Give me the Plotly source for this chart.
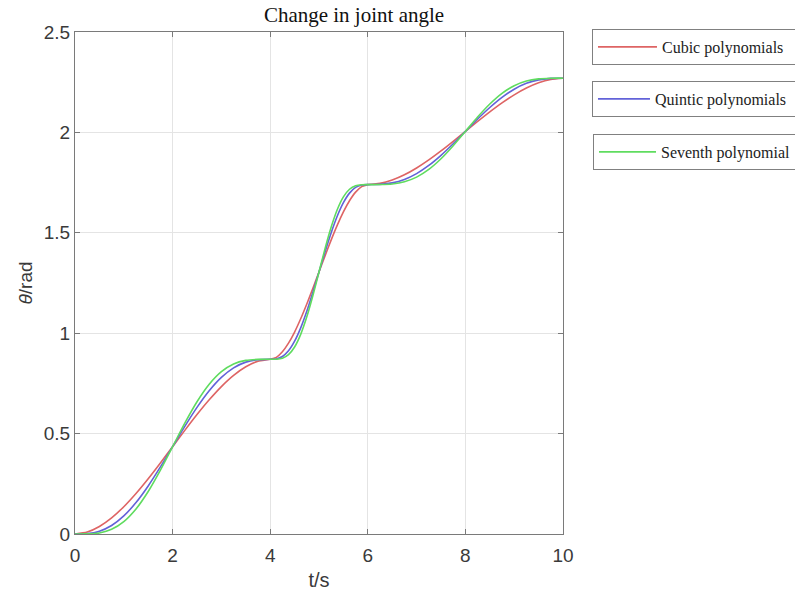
import plotly.graph_objects as go

# time samples (s)
t = [0.0, 0.25, 0.5, 0.75, 1.0, 1.25, 1.5, 1.75, 2.0, 2.25, 2.5, 2.75, 3.0, 3.25, 3.5, 3.75, 4.0,
     4.125, 4.25, 4.375, 4.5, 4.625, 4.75, 4.875, 5.0, 5.125, 5.25, 5.375, 5.5, 5.625, 5.75, 5.875, 6.0,
     6.25, 6.5, 6.75, 7.0, 7.25, 7.5, 7.75, 8.0, 8.25, 8.5, 8.75, 9.0, 9.25, 9.5, 9.75, 10.0]

cubic = [0.0, 0.0098, 0.0374, 0.0803, 0.1359, 0.2018, 0.2753, 0.3539, 0.435, 0.5161, 0.5947, 0.6682,
         0.7341, 0.7897, 0.8326, 0.8602, 0.87,
         0.8798, 0.9074, 0.9503, 1.0059, 1.0718, 1.1453, 1.2239, 1.305, 1.3861, 1.4647, 1.5382,
         1.6041, 1.6597, 1.7026, 1.7302, 1.74,
         1.7460, 1.7628, 1.7889, 1.8228, 1.8629, 1.9077, 1.9556, 2.005, 2.0544, 2.1023, 2.1471,
         2.1872, 2.2211, 2.2472, 2.2641, 2.27]

quintic = [0.0, 0.0019, 0.0140, 0.0424, 0.0901, 0.1566, 0.2394, 0.3341, 0.435, 0.5359, 0.6306, 0.7134,
           0.7799, 0.8276, 0.8560, 0.8681, 0.87,
           0.8719, 0.8840, 0.9124, 0.9601, 1.0266, 1.1094, 1.2041, 1.305, 1.4059, 1.5006, 1.5834,
           1.6499, 1.6976, 1.7260, 1.7381, 1.74,
           1.7412, 1.7485, 1.7659, 1.7949, 1.8354, 1.8859, 1.9435, 2.005, 2.0665, 2.1241, 2.1746,
           2.2151, 2.2442, 2.2615, 2.2688, 2.27]

seventh = [0.0, 0.0004, 0.0054, 0.0232, 0.0614, 0.1243, 0.2114, 0.3179, 0.435, 0.5521, 0.6586, 0.7458,
           0.8086, 0.8468, 0.8646, 0.8696, 0.87,
           0.8704, 0.8754, 0.8932, 0.9314, 0.9943, 1.0814, 1.1879, 1.305, 1.4221, 1.5286, 1.6158,
           1.6786, 1.7168, 1.7346, 1.7396, 1.74,
           1.7402, 1.7433, 1.7541, 1.7774, 1.8157, 1.8688, 1.9337, 2.005, 2.0763, 2.1412, 2.1943,
           2.2326, 2.2559, 2.2667, 2.2698, 2.27]

series_names = ["Cubic polynomials", "Quintic polynomials", "Seventh polynomial"]
series_values = [cubic, quintic, seventh]
series_colors = ["#de6464", "#6262d8", "#5fdc5f"]
legend_ids = ["legend", "legend2", "legend3"]

x_ticks = [0, 2, 4, 6, 8, 10]
y_ticks = [0, 0.5, 1, 1.5, 2, 2.5]
y_tick_text = ["0", "0.5", "1", "1.5", "2", "2.5"]

fig = go.Figure()
for name, vals, col, lg in zip(series_names, series_values, series_colors, legend_ids):
    fig.add_trace(go.Scatter(x=t, y=vals, mode="lines", name=name, showlegend=True,
                             line=dict(color=col, width=1.6, shape="spline", smoothing=0.6),
                             legend=lg))

axis_common = dict(showline=True, linecolor="#7a7a7a", linewidth=1, mirror="ticks",
                   ticks="inside", ticklen=5, tickcolor="#7a7a7a", automargin=False,
                   showgrid=True, gridcolor="#e4e4e4", gridwidth=1, zeroline=False,
                   tickfont=dict(family="Liberation Sans, Arial", size=19, color="#3a3a3a"))

fig.update_xaxes(range=[0, 10], tickvals=x_ticks, ticklabelstandoff=4, **axis_common,
                 title=dict(text="t/s", font=dict(family="Liberation Sans, Arial", size=20, color="#3a3a3a"),
                            standoff=8))
fig.update_yaxes(range=[0, 2.5], tickvals=y_ticks, ticktext=y_tick_text, **axis_common,
                 title=dict(text="<i>θ</i>/rad", font=dict(family="Liberation Sans, Arial", size=19, color="#3a3a3a"),
                            standoff=6))

leg_common = dict(bordercolor="#808080", borderwidth=1, bgcolor="white",
                  font=dict(family="Liberation Serif, Times New Roman", size=16, color="#222222"),
                  xanchor="left", yanchor="middle", orientation="h", entrywidthmode="pixels")

fig.update_layout(
    width=795, height=597, showlegend=True,
    margin=dict(l=75, r=232, t=32, b=63, autoexpand=False),
    paper_bgcolor="white", plot_bgcolor="white",
    title=dict(text="Change in joint angle", x=354 / 795, xref="container", xanchor="center",
               yref="container", y=1 - 15 / 597, yanchor="middle", automargin=False,
               font=dict(family="Liberation Serif, Times New Roman", size=21, color="#111111")),
    legend=dict(x=1.0594, y=0.9701, itemwidth=59, entrywidth=173, **leg_common),
    legend2=dict(x=1.0594, y=0.8665, itemwidth=52, entrywidth=180, **leg_common),
    legend3=dict(x=1.0615, y=0.7610, itemwidth=57, entrywidth=175, **leg_common),
)

fig.write_html("out.html", config={"displayModeBar": False},
               post_script="document.body.style.margin='0';")
